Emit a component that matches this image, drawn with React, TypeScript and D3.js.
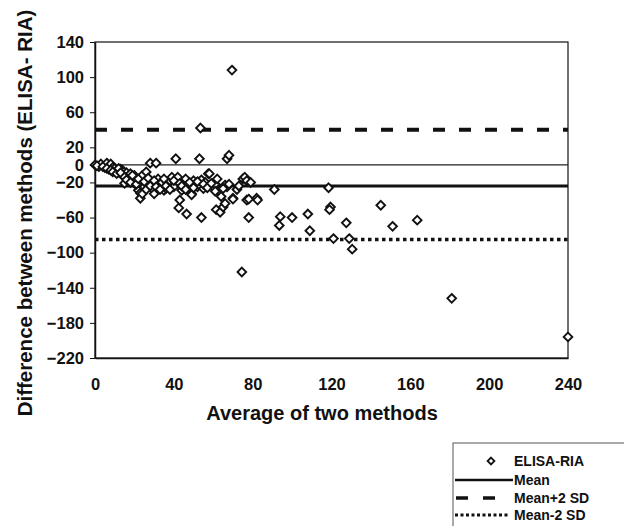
import React, { useEffect, useRef } from 'react';
import * as d3 from 'd3';

// average of the two methods (x) and ELISA - RIA difference (y)
const averages = [
  0, 2, 3, 5, 6, 7, 8, 9, 10, 11, 12, 13, 14, 14, 15, 16, 17, 18, 19, 20,
  20, 21, 22, 23, 23, 23, 24, 24, 25, 26, 27, 28, 29, 30, 31, 32, 33, 34, 35, 36,
  37, 38, 39, 40, 41, 42, 42.5, 43, 44, 45, 46, 46.5, 47, 48, 49, 49, 50, 51, 52, 53,
  53.5, 54, 54, 55, 56, 57.5, 58, 60, 61, 61.5, 62, 63, 63.5, 64, 65, 66, 66, 67, 67, 68,
  69.5, 70, 70, 72, 74.5, 75, 76, 77, 77, 78, 78, 79, 82, 82.5, 91, 94, 93.5, 100, 108, 109,
  118.5, 119.5, 119, 121, 127.5, 129, 130.5, 145, 151, 163.5, 181, 240,
  1, 4, 6, 8, 9, 11, 12, 13, 15, 16, 18, 19, 21, 22, 25, 26, 27, 28, 30, 31,
  33, 35, 36, 38, 40, 43, 44, 46, 48, 50, 52, 55, 57, 59, 61, 65, 68, 73
];
const differences = [
  0, -2, 1, -3, 2, -5, 1, -3, -4, -7, -8, -5, -6, -12, -21, -9, -13, -10, -16, -21,
  -12, -18, -29, -19, -32, -38, -12, -33, -25, -8, -21, 2, -27, -33, 2, -16, -23, -20, -29, -27,
  -21, -18, -14, -25, 7, -14, -49, -40, -29, -20, -16, -56, -23, -30, -33, -34, -18, -22, -25, 7,
  42, -17, -60, -27, -20, -10, -10, -25, -22, -51, -16, -30, -54, -36, -48, -23, -44, 7, -25, 11,
  108, -38, -39, -28, -122, -16, -14, -18, -40, -39, -60, -20, -38, -40, -28, -59, -69, -60, -56, -75,
  -26, -48, -51, -84, -66, -84, -96, -46, -70, -63, -152, -196,
  -1, -2, -4, -6, -8, -10, -4, -9, -14, -17, -20, -12, -22, -16, -19, -28, -15, -24, -18, -25,
  -28, -16, -24, -28, -18, -21, -24, -28, -20, -26, -19, -22, -26, -21, -30, -27, -22, -24
];

const meanDiff = -24;
const upperLimit = 40;
const lowerLimit = -85;

const xTicks = [0, 40, 80, 120, 160, 200, 240];
const yTicks = [140, 100, 60, 20, 0, -20, -60, -100, -140, -180, -220];

const legendLabels = ['ELISA-RIA', 'Mean', 'Mean+2 SD', 'Mean-2 SD'];

const font = '"Liberation Sans", Arial, sans-serif';

const App = () => {
  const svgRef = useRef<SVGSVGElement>(null);

  useEffect(() => {
    document.body.style.margin = '0';
    const svg = d3.select(svgRef.current);
    svg.selectAll('*').remove();

    const x = d3.scaleLinear().domain([0, 240]).range([95, 568]);
    const y = d3.scaleLinear().domain([-220, 140]).range([358, 42]);

    // plot frame
    svg.append('rect')
      .attr('x', x(0))
      .attr('y', y(140))
      .attr('width', x(240) - x(0))
      .attr('height', y(-220) - y(140))
      .attr('fill', 'none')
      .attr('stroke', '#111')
      .attr('stroke-width', 1.2);

    // y axis
    const yAxis = svg.append('g')
      .attr('transform', `translate(${x(0)},0)`)
      .call(d3.axisLeft(y).tickValues(yTicks).tickSize(5).tickSizeOuter(0).tickPadding(6));
    yAxis.select('.domain').attr('stroke', '#111').attr('stroke-width', 1.5);
    yAxis.selectAll('line').attr('stroke', '#111');
    yAxis.selectAll('text')
      .attr('font-family', font)
      .attr('font-size', 16.5)
      .attr('font-weight', 'bold')
      .attr('fill', '#111');

    // x axis, labels only
    const xAxis = svg.append('g')
      .attr('transform', `translate(0,${y(-220)})`)
      .call(d3.axisBottom(x).tickValues(xTicks).tickSize(0).tickPadding(20));
    xAxis.select('.domain').attr('stroke', '#111').attr('stroke-width', 1.5);
    xAxis.selectAll('text')
      .attr('font-family', font)
      .attr('font-size', 16.5)
      .attr('font-weight', 'bold')
      .attr('fill', '#111');

    // zero line
    svg.append('line')
      .attr('x1', x(0)).attr('x2', x(240))
      .attr('y1', y(0)).attr('y2', y(0))
      .attr('stroke', '#222')
      .attr('stroke-width', 1.2);

    // mean and limits
    svg.append('line')
      .attr('x1', x(0)).attr('x2', x(240))
      .attr('y1', y(meanDiff)).attr('y2', y(meanDiff))
      .attr('stroke', '#111')
      .attr('stroke-width', 3);

    svg.append('line')
      .attr('x1', x(0)).attr('x2', x(240))
      .attr('y1', y(upperLimit)).attr('y2', y(upperLimit))
      .attr('stroke', '#111')
      .attr('stroke-width', 4)
      .attr('stroke-dasharray', '12,14');

    svg.append('line')
      .attr('x1', x(0)).attr('x2', x(240))
      .attr('y1', y(lowerLimit)).attr('y2', y(lowerLimit))
      .attr('stroke', '#111')
      .attr('stroke-width', 3.5)
      .attr('stroke-dasharray', '3.5,3.5');

    // points
    const diamond = d3.symbol().type(d3.symbolDiamond2).size(48);
    svg.append('g')
      .selectAll('path')
      .data(averages.map((a, i) => [a, differences[i]]))
      .enter()
      .append('path')
      .attr('d', diamond)
      .attr('transform', d => `translate(${x(d[0])},${y(d[1])})`)
      .attr('fill', '#fff')
      .attr('stroke', '#111')
      .attr('stroke-width', 1.9);

    // axis titles
    svg.append('text')
      .attr('x', 322)
      .attr('y', 420)
      .attr('text-anchor', 'middle')
      .attr('font-family', font)
      .attr('font-size', 20)
      .attr('font-weight', 'bold')
      .attr('fill', '#111')
      .text('Average of two methods');

    svg.append('text')
      .attr('transform', 'translate(32,213) rotate(-90)')
      .attr('text-anchor', 'middle')
      .attr('font-family', font)
      .attr('font-size', 20.5)
      .attr('font-weight', 'bold')
      .attr('fill', '#111')
      .text('Difference between methods (ELISA- RIA)');

    // legend
    const legend = svg.append('g');
    legend.append('rect')
      .attr('x', 453).attr('y', 443)
      .attr('width', 200).attr('height', 120)
      .attr('fill', '#fff')
      .attr('stroke', '#555')
      .attr('stroke-width', 1);

    const rowY = [461, 480, 498, 515];
    legend.append('path')
      .attr('d', d3.symbol().type(d3.symbolDiamond2).size(30))
      .attr('transform', `translate(491,${rowY[0]})`)
      .attr('fill', '#fff')
      .attr('stroke', '#111')
      .attr('stroke-width', 1.8);
    legend.append('line')
      .attr('x1', 455).attr('x2', 513)
      .attr('y1', rowY[1]).attr('y2', rowY[1])
      .attr('stroke', '#111').attr('stroke-width', 2.5);
    legend.append('line')
      .attr('x1', 456).attr('x2', 496)
      .attr('y1', rowY[2]).attr('y2', rowY[2])
      .attr('stroke', '#111').attr('stroke-width', 3.5)
      .attr('stroke-dasharray', '12,15');
    legend.append('line')
      .attr('x1', 455).attr('x2', 510)
      .attr('y1', rowY[3]).attr('y2', rowY[3])
      .attr('stroke', '#111').attr('stroke-width', 3)
      .attr('stroke-dasharray', '3,2.5');

    legend.selectAll('text.lbl')
      .data(legendLabels)
      .enter()
      .append('text')
      .attr('class', 'lbl')
      .attr('x', 514)
      .attr('y', (d, i) => rowY[i] + 5)
      .attr('font-family', font)
      .attr('font-size', 14)
      .attr('font-weight', 'bold')
      .attr('fill', '#111')
      .text(d => d);
  }, []);

  return (
    <div>
      <svg ref={svgRef} width={624} height={526} style={{ display: 'block', background: '#fff' }}></svg>
    </div>
  );
};

export default App;
